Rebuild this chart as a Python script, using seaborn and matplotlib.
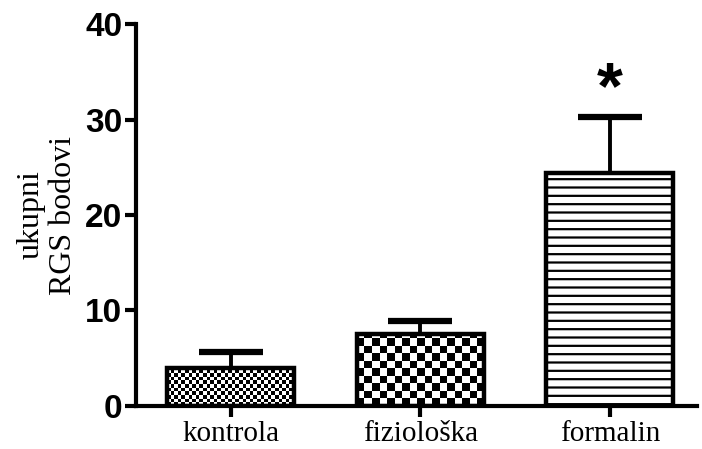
import numpy as np
import matplotlib
matplotlib.use("Agg")
import matplotlib.pyplot as plt
import seaborn as sns

groups = ["kontrola", "fiziološka", "formalin"]
means = [4.0, 7.5, 24.4]
errors = [1.7, 1.4, 5.9]
y_ticks = [0, 10, 20, 30, 40]

sns.set_style("ticks")
plt.rcParams["hatch.linewidth"] = 1.6
plt.rcParams["text.color"] = "black"
plt.rcParams["axes.labelcolor"] = "black"

fig = plt.figure(figsize=(7.02, 4.49), dpi=100)
ax = fig.add_axes([0.194, 0.0958, 0.799, 0.8507])

sns.barplot(x=groups, y=means, color="white", edgecolor="black",
            linewidth=3.2, width=0.67, ax=ax, errorbar=None)

eb = ax.errorbar(range(len(groups)), means, yerr=[np.zeros(len(errors)), errors],
                 fmt="none", ecolor="black", elinewidth=2.8, capsize=23,
                 capthick=4.5, zorder=0.5)
# only the upper caps
for cap in eb[1]:
    if np.allclose(cap.get_ydata(), means):
        cap.set_visible(False)

ax.set_xlim(-0.5, 2.46)
ax.set_ylim(0, 40)

# checkerboard fills, clipped to the bar shapes
patches = list(ax.patches)
cells = [3.6, 7.5]
for patch, cell in zip(patches[:2], cells):
    x0, y0 = patch.get_x(), patch.get_y()
    w, h = patch.get_width(), patch.get_height()
    p = ax.transData.transform([[x0, y0], [x0 + w, y0 + h]])
    nx = int((p[1, 0] - p[0, 0]) / cell) + 1
    ny = int((p[1, 1] - p[0, 1]) / cell) + 1
    board = (np.add.outer(np.arange(ny), np.arange(nx)) % 2).astype(float)
    ext_w = nx * cell / (p[1, 0] - p[0, 0]) * w
    ext_h = ny * cell / (p[1, 1] - p[0, 1]) * h
    im = ax.imshow(board, cmap="gray", extent=[x0, x0 + ext_w, y0, y0 + ext_h],
                   origin="lower", interpolation="nearest", aspect="auto",
                   zorder=patch.get_zorder() + 0.1)
    im.set_clip_path(patch)
    patch.set_zorder(patch.get_zorder() + 0.2)
    patch.set_facecolor("none")

patches[2].set_hatch("--")

ax.text(2, 33.0, "*", ha="center", va="center", color="black",
        fontsize=48, fontweight="bold", family="Liberation Sans")

ax.set_xlim(-0.5, 2.46)
ax.set_ylim(0, 40)
ax.set_yticks(y_ticks)
ax.set_yticklabels([str(t) for t in y_ticks], fontsize=24, fontweight="bold",
                   family="Liberation Sans")
ax.set_xticks(range(len(groups)))
ax.set_xticklabels(groups, fontsize=21, family="Liberation Serif")
ax.set_ylabel("ukupni\nRGS bodovi", fontsize=23, family="Liberation Serif",
              linespacing=1.15, labelpad=5, color="black")
ax.tick_params(axis="both", width=3, length=8, direction="out", colors="black")
ax.tick_params(axis="y", pad=2)
ax.tick_params(axis="x", pad=3)

sns.despine(ax=ax)
for s in ["left", "bottom"]:
    ax.spines[s].set_linewidth(3)
    ax.spines[s].set_color("black")

fig.savefig("out.png", dpi=100)
